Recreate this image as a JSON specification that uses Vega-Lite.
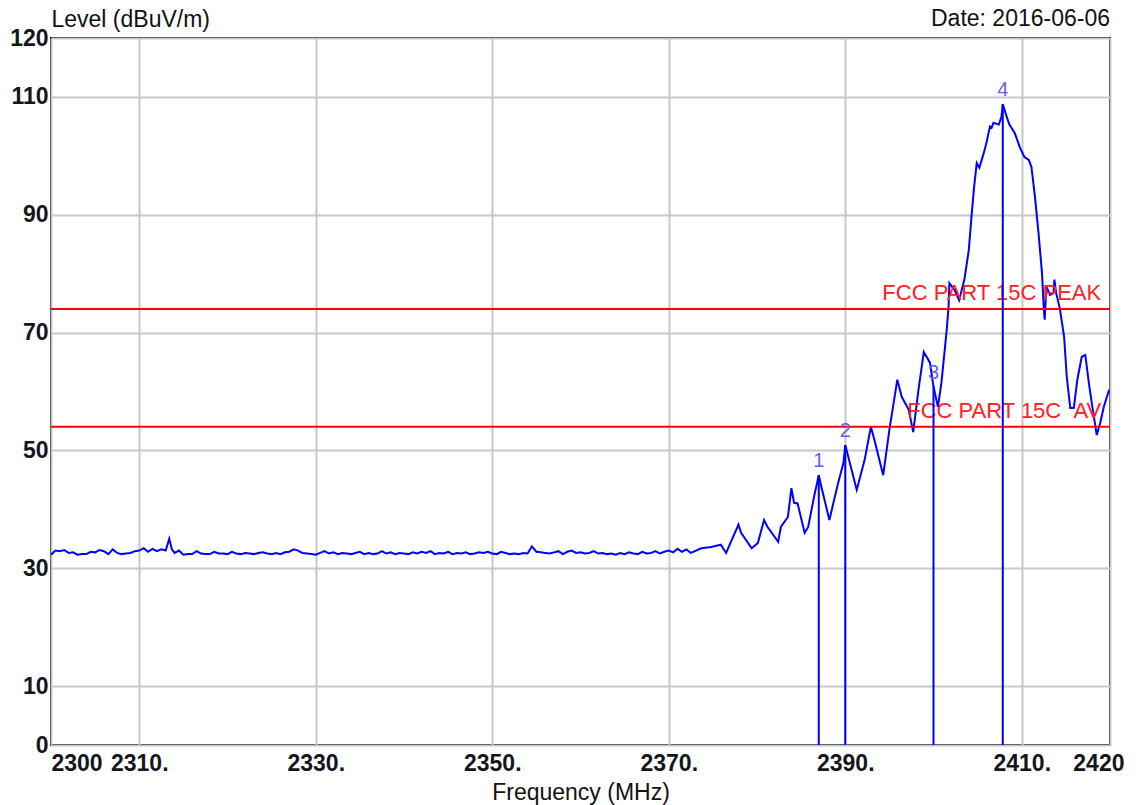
{
  "$schema": "https://vega.github.io/schema/vega-lite/v6.json",
  "autosize": "none",
  "width": 1059,
  "height": 707,
  "padding": {"left": 51, "top": 38, "right": 26, "bottom": 60},
  "background": "white",
  "config": {
    "view": {"stroke": "#000000", "strokeWidth": 2},
    "font": "Liberation Sans"
  },
  "title": {
    "text": "Date: 2016-06-06",
    "anchor": "end",
    "frame": "group",
    "orient": "top",
    "offset": -23,
    "fontSize": 23,
    "fontWeight": "normal",
    "color": "#111111",
    "font": "Liberation Sans"
  },
  "datasets": {
    "trace": [
      {"f": 2300, "v": 32.3}, {"f": 2300.5, "v": 33.0}, {"f": 2301, "v": 32.9}, {"f": 2301.5, "v": 33.1}, {"f": 2302, "v": 32.6}, {"f": 2302.5, "v": 32.7}, {"f": 2303, "v": 32.3}, {"f": 2303.5, "v": 32.4}, {"f": 2304, "v": 32.4}, {"f": 2304.5, "v": 32.8}, {"f": 2305, "v": 32.7}, {"f": 2305.5, "v": 33.1}, {"f": 2306, "v": 32.9}, {"f": 2306.5, "v": 32.4}, {"f": 2307, "v": 33.2}, {"f": 2307.5, "v": 32.6}, {"f": 2308, "v": 32.4}, {"f": 2308.5, "v": 32.5}, {"f": 2309, "v": 32.6}, {"f": 2309.5, "v": 32.9},
      {"f": 2310, "v": 33.0}, {"f": 2310.5, "v": 33.4}, {"f": 2311, "v": 32.8}, {"f": 2311.5, "v": 33.3}, {"f": 2312, "v": 32.9}, {"f": 2312.5, "v": 33.2}, {"f": 2313, "v": 33.0}, {"f": 2313.4, "v": 35.0}, {"f": 2313.7, "v": 33.2}, {"f": 2314, "v": 32.6}, {"f": 2314.5, "v": 33.0}, {"f": 2315, "v": 32.3}, {"f": 2315.5, "v": 32.4}, {"f": 2316, "v": 32.4}, {"f": 2316.5, "v": 32.9}, {"f": 2317, "v": 32.5}, {"f": 2317.5, "v": 32.4}, {"f": 2318, "v": 32.4}, {"f": 2318.5, "v": 32.8}, {"f": 2319, "v": 32.5}, {"f": 2319.5, "v": 32.5},
      {"f": 2320, "v": 32.4}, {"f": 2320.5, "v": 32.8}, {"f": 2321, "v": 32.5}, {"f": 2321.5, "v": 32.4}, {"f": 2322, "v": 32.6}, {"f": 2322.5, "v": 32.5}, {"f": 2323, "v": 32.4}, {"f": 2323.5, "v": 32.6}, {"f": 2324, "v": 32.7}, {"f": 2324.5, "v": 32.5}, {"f": 2325, "v": 32.4}, {"f": 2325.5, "v": 32.6}, {"f": 2326, "v": 32.4}, {"f": 2326.5, "v": 32.7}, {"f": 2327, "v": 32.8}, {"f": 2327.5, "v": 33.2}, {"f": 2328, "v": 33.0}, {"f": 2328.5, "v": 32.6}, {"f": 2329, "v": 32.5}, {"f": 2329.5, "v": 32.4},
      {"f": 2330, "v": 32.3}, {"f": 2330.5, "v": 32.6}, {"f": 2331, "v": 32.9}, {"f": 2331.5, "v": 32.5}, {"f": 2332, "v": 32.7}, {"f": 2332.5, "v": 32.4}, {"f": 2333, "v": 32.6}, {"f": 2333.5, "v": 32.5}, {"f": 2334, "v": 32.4}, {"f": 2334.5, "v": 32.6}, {"f": 2335, "v": 32.8}, {"f": 2335.5, "v": 32.4}, {"f": 2336, "v": 32.6}, {"f": 2336.5, "v": 32.4}, {"f": 2337, "v": 32.5}, {"f": 2337.5, "v": 32.9}, {"f": 2338, "v": 32.5}, {"f": 2338.5, "v": 32.7}, {"f": 2339, "v": 32.4}, {"f": 2339.5, "v": 32.6},
      {"f": 2340, "v": 32.5}, {"f": 2340.5, "v": 32.4}, {"f": 2341, "v": 32.7}, {"f": 2341.5, "v": 32.5}, {"f": 2342, "v": 32.8}, {"f": 2342.5, "v": 32.6}, {"f": 2343, "v": 32.9}, {"f": 2343.5, "v": 32.4}, {"f": 2344, "v": 32.6}, {"f": 2344.5, "v": 32.5}, {"f": 2345, "v": 32.8}, {"f": 2345.5, "v": 32.4}, {"f": 2346, "v": 32.6}, {"f": 2346.5, "v": 32.5}, {"f": 2347, "v": 32.7}, {"f": 2347.5, "v": 32.4}, {"f": 2348, "v": 32.5}, {"f": 2348.5, "v": 32.7}, {"f": 2349, "v": 32.6}, {"f": 2349.5, "v": 32.8},
      {"f": 2350, "v": 32.5}, {"f": 2350.5, "v": 32.4}, {"f": 2351, "v": 32.8}, {"f": 2351.5, "v": 32.6}, {"f": 2352, "v": 32.4}, {"f": 2352.5, "v": 32.5}, {"f": 2353, "v": 32.4}, {"f": 2353.5, "v": 32.6}, {"f": 2354, "v": 32.5}, {"f": 2354.5, "v": 33.7}, {"f": 2355, "v": 32.8}, {"f": 2355.5, "v": 32.7}, {"f": 2356, "v": 32.6}, {"f": 2356.5, "v": 32.5}, {"f": 2357, "v": 32.7}, {"f": 2357.5, "v": 32.9}, {"f": 2358, "v": 32.4}, {"f": 2358.5, "v": 32.8}, {"f": 2359, "v": 33.0}, {"f": 2359.5, "v": 32.6},
      {"f": 2360, "v": 32.7}, {"f": 2360.5, "v": 32.5}, {"f": 2361, "v": 32.6}, {"f": 2361.5, "v": 32.9}, {"f": 2362, "v": 32.5}, {"f": 2362.5, "v": 32.6}, {"f": 2363, "v": 32.4}, {"f": 2363.5, "v": 32.5}, {"f": 2364, "v": 32.3}, {"f": 2364.5, "v": 32.6}, {"f": 2365, "v": 32.4}, {"f": 2365.5, "v": 32.7}, {"f": 2366, "v": 32.5}, {"f": 2366.5, "v": 32.4}, {"f": 2367, "v": 32.8}, {"f": 2367.5, "v": 32.5}, {"f": 2368, "v": 32.6}, {"f": 2368.5, "v": 32.9}, {"f": 2369, "v": 32.5}, {"f": 2369.5, "v": 32.8},
      {"f": 2370, "v": 33.0}, {"f": 2370.5, "v": 32.7}, {"f": 2371, "v": 33.3}, {"f": 2371.5, "v": 32.8}, {"f": 2372, "v": 33.2}, {"f": 2372.5, "v": 32.6},
      {"f": 2373.7, "v": 33.4}, {"f": 2374.8, "v": 33.6}, {"f": 2375.9, "v": 34.0}, {"f": 2376.5, "v": 32.6}, {"f": 2377.9, "v": 37.4}, {"f": 2378.2, "v": 36.0}, {"f": 2379.4, "v": 33.4}, {"f": 2380.1, "v": 34.3}, {"f": 2380.8, "v": 38.2}, {"f": 2381.2, "v": 37.0}, {"f": 2382.4, "v": 34.5}, {"f": 2382.7, "v": 37.0}, {"f": 2383.5, "v": 38.7}, {"f": 2383.9, "v": 43.6}, {"f": 2384.2, "v": 41.1}, {"f": 2384.6, "v": 41.0}, {"f": 2385.4, "v": 36.0}, {"f": 2385.8, "v": 37.0}, {"f": 2386.5, "v": 42.4}, {"f": 2387.0, "v": 45.8}, {"f": 2387.3, "v": 43.8}, {"f": 2388.2, "v": 38.2}, {"f": 2389.2, "v": 44.5}, {"f": 2389.8, "v": 47.9}, {"f": 2390.0, "v": 50.9}, {"f": 2390.5, "v": 48.0}, {"f": 2391.3, "v": 43.3}, {"f": 2392.2, "v": 48.4}, {"f": 2392.9, "v": 54.0}, {"f": 2393.3, "v": 51.8}, {"f": 2394.3, "v": 45.8}, {"f": 2395.0, "v": 53.5}, {"f": 2395.9, "v": 62.0}, {"f": 2396.4, "v": 59.1}, {"f": 2397.2, "v": 56.9}, {"f": 2397.7, "v": 53.1}, {"f": 2398.3, "v": 60.3}, {"f": 2398.9, "v": 66.7}, {"f": 2399.6, "v": 64.9}, {"f": 2400.0, "v": 60.8}, {"f": 2400.5, "v": 57.4}, {"f": 2400.9, "v": 61.5}, {"f": 2401.5, "v": 70.5}, {"f": 2401.7, "v": 74.2}, {"f": 2401.8, "v": 78.4}, {"f": 2402.4, "v": 77.2}, {"f": 2402.9, "v": 75.5}, {"f": 2403.5, "v": 79.0}, {"f": 2404.0, "v": 84.0}, {"f": 2404.3, "v": 89.6}, {"f": 2404.6, "v": 94.7}, {"f": 2404.9, "v": 98.8}, {"f": 2405.2, "v": 98.0}, {"f": 2405.7, "v": 100.5}, {"f": 2406.0, "v": 102.2}, {"f": 2406.4, "v": 105.0}, {"f": 2406.6, "v": 104.8}, {"f": 2406.8, "v": 105.6}, {"f": 2407.4, "v": 105.3}, {"f": 2407.7, "v": 106.6}, {"f": 2407.85, "v": 108.8}, {"f": 2408.3, "v": 106.6}, {"f": 2408.6, "v": 105.3}, {"f": 2409.2, "v": 103.9}, {"f": 2409.8, "v": 101.4}, {"f": 2410.3, "v": 99.8}, {"f": 2410.8, "v": 99.3}, {"f": 2411.1, "v": 98.1}, {"f": 2411.5, "v": 93.0}, {"f": 2411.9, "v": 86.9}, {"f": 2412.3, "v": 80.0}, {"f": 2412.5, "v": 73.9}, {"f": 2412.6, "v": 72.2}, {"f": 2412.8, "v": 77.8}, {"f": 2413.2, "v": 76.4}, {"f": 2413.6, "v": 76.7}, {"f": 2413.7, "v": 79.0}, {"f": 2413.9, "v": 76.7}, {"f": 2414.3, "v": 74.2}, {"f": 2414.8, "v": 69.3}, {"f": 2415.1, "v": 62.5}, {"f": 2415.5, "v": 57.2}, {"f": 2415.9, "v": 57.2}, {"f": 2416.3, "v": 62.0}, {"f": 2416.8, "v": 65.9}, {"f": 2417.2, "v": 66.2}, {"f": 2417.6, "v": 61.5}, {"f": 2418.0, "v": 57.4}, {"f": 2418.5, "v": 52.6}, {"f": 2418.9, "v": 54.7}, {"f": 2419.3, "v": 57.4}, {"f": 2419.9, "v": 60.3}
    ],
    "markers": [
      {"f": 2387.0, "v": 45.8, "base": 0, "label": "1"},
      {"f": 2390.0, "v": 50.9, "base": 0, "label": "2"},
      {"f": 2400.0, "v": 60.8, "base": 0, "label": "3"},
      {"f": 2407.85, "v": 108.8, "base": 0, "label": "4"}
    ],
    "limits": [
      {"f": 2419.0, "v": 74, "label": "FCC PART 15C PEAK"},
      {"f": 2419.0, "v": 54, "label": "FCC PART 15C\u00a0\u00a0AV"}
    ]
  },
  "layer": [
    {
      "data": {"name": "trace"},
      "mark": {"type": "line", "color": "#0000ff", "strokeWidth": 2, "clip": true},
      "encoding": {
        "x": {
          "field": "f", "type": "quantitative",
          "scale": {"domain": [2300, 2420], "nice": false, "zero": false},
          "axis": {
            "title": "Frequency (MHz)",
            "titleFont": "Liberation Sans", "titleFontSize": 23, "titleFontWeight": "normal", "titleColor": "#111111", "titlePadding": 6,
            "values": [2300, 2310, 2330, 2350, 2370, 2390, 2410, 2420],
            "labelExpr": "(datum.value == 2300 || datum.value == 2420) ? format(datum.value, 'd') : format(datum.value, 'd') + '.'",
            "labelFont": "Liberation Sans", "labelFontSize": 23, "labelFontWeight": "bold", "labelColor": "#151520",
            "labelOffset": {"condition": {"test": "datum.value == 2420", "value": 14}, "value": 0},
            "labelPadding": 7, "labelFlush": true, "labelOverlap": false,
            "ticks": false, "domain": false,
            "grid": true, "gridColor": "#c8c8c8", "gridWidth": 2
          }
        },
        "y": {
          "field": "v", "type": "quantitative",
          "scale": {"domain": [0, 120], "nice": false},
          "axis": {
            "title": "Level (dBuV/m)",
            "titleAngle": 0, "titleAlign": "left", "titleBaseline": "middle",
            "titleX": 0, "titleY": -19,
            "titleFont": "Liberation Sans", "titleFontSize": 23, "titleFontWeight": "normal", "titleColor": "#111111",
            "values": [0, 10, 30, 50, 70, 90, 110, 120],
            "format": "d",
            "labelFont": "Liberation Sans", "labelFontSize": 23, "labelFontWeight": "bold", "labelColor": "#151520",
            "labelPadding": 3, "labelFlush": false, "labelOverlap": false,
            "ticks": false, "domain": false,
            "grid": true, "gridColor": "#c8c8c8", "gridWidth": 2
          }
        }
      }
    },
    {
      "data": {"name": "limits"},
      "mark": {"type": "rule", "color": "#ff0000", "strokeWidth": 2},
      "encoding": {
        "y": {"field": "v", "type": "quantitative"}
      }
    },
    {
      "data": {"name": "limits"},
      "mark": {"type": "text", "color": "#ff2020", "fontSize": 22, "font": "Liberation Sans", "align": "right", "baseline": "bottom", "dy": -4},
      "encoding": {
        "x": {"field": "f", "type": "quantitative"},
        "y": {"field": "v", "type": "quantitative"},
        "text": {"field": "label", "type": "nominal"}
      }
    },
    {
      "data": {"name": "markers"},
      "mark": {"type": "rule", "color": "#0000ff", "strokeWidth": 2},
      "encoding": {
        "x": {"field": "f", "type": "quantitative"},
        "y": {"field": "v", "type": "quantitative"},
        "y2": {"field": "base"}
      }
    },
    {
      "data": {"name": "markers"},
      "mark": {"type": "text", "color": "#6060f0", "fontSize": 20, "font": "Liberation Sans", "align": "center", "baseline": "bottom", "dy": -4},
      "encoding": {
        "x": {"field": "f", "type": "quantitative"},
        "y": {"field": "v", "type": "quantitative"},
        "text": {"field": "label", "type": "nominal"}
      }
    }
  ]
}
